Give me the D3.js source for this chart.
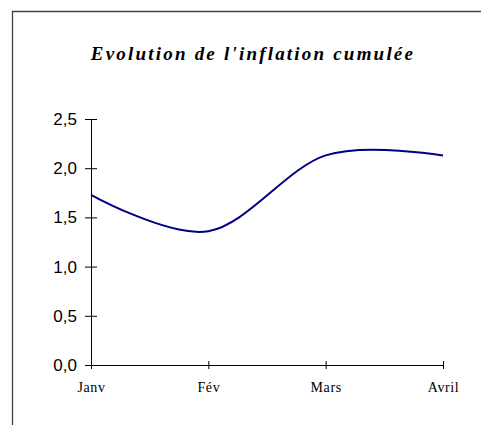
<!DOCTYPE html>
<html lang="fr">
<head>
<meta charset="utf-8">
<title>Evolution de l'inflation cumulée</title>
<script src="https://d3js.org/d3.v7.min.js"></script>
<style>
  html, body { margin: 0; background: #fff; overflow: hidden; }
  svg { display: block; }
</style>
</head>
<body>
<script>
// data
var months = ["Janv", "Fév", "Mars", "Avril"];
var inflation = [1.73, 1.36, 2.13, 2.13];
var yTicks = [0, 0.5, 1.0, 1.5, 2.0, 2.5];

var w = 481, h = 425;

var svg = d3.select("body").append("svg")
    .attr("width", w)
    .attr("height", h);

// frame (only top and left edges fall inside the picture)
svg.append("path")
    .attr("d", "M12.5," + h + "V11.5H" + w)
    .attr("fill", "none")
    .attr("stroke", "#444")
    .attr("stroke-width", 1.3);

// title
svg.append("text")
    .attr("x", 253).attr("y", 60)
    .attr("text-anchor", "middle")
    .style("font-family", "'Liberation Serif', serif")
    .style("font-style", "italic")
    .style("font-weight", "bold")
    .style("font-size", "19px")
    .style("letter-spacing", "2.2px")
    .text("Evolution de l'inflation cumulée");

var xScale = d3.scalePoint()
    .domain(months)
    .range([91, 443]);

var yScale = d3.scaleLinear()
    .domain([0, 2.5])
    .range([365, 119]);

var fmt = function(d) { return d3.format(".1f")(d).replace(".", ","); };

// y axis
var yAxis = d3.axisLeft(yScale)
    .tickValues(yTicks)
    .tickSize(0)
    .tickPadding(14)
    .tickFormat(fmt);

var gy = svg.append("g")
    .attr("transform", "translate(91,0)")
    .call(yAxis)
    .attr("font-family", "'Liberation Sans', Arial, sans-serif")
    .attr("font-size", 17);
gy.select(".domain").attr("stroke", "#000");
gy.selectAll(".tick text").attr("fill", "#000");
gy.selectAll(".tick").append("line")
    .attr("x1", -6).attr("x2", 6)
    .attr("stroke", "#000");

// x axis
var xAxis = d3.axisBottom(xScale)
    .tickSize(0)
    .tickPadding(23);

var gx = svg.append("g")
    .attr("transform", "translate(0,365)")
    .call(xAxis)
    .attr("font-family", "'Liberation Serif', 'Times New Roman', serif")
    .attr("font-size", 14);
gx.select(".domain").attr("stroke", "#000");
gx.selectAll(".tick text")
    .attr("fill", "#000")
    .attr("dy", "0.32em")
    .style("letter-spacing", "0.6px");
gx.selectAll(".tick").append("line")
    .attr("y1", -4).attr("y2", 4)
    .attr("stroke", "#000");

// line
var line = d3.line()
    .x(function(d, i) { return xScale(months[i]); })
    .y(function(d) { return yScale(d); })
    .curve(d3.curveCatmullRom.alpha(0));

svg.append("path")
    .datum(inflation)
    .attr("d", line)
    .attr("fill", "none")
    .attr("stroke", "#000080")
    .attr("stroke-width", 2);
</script>
</body>
</html>
